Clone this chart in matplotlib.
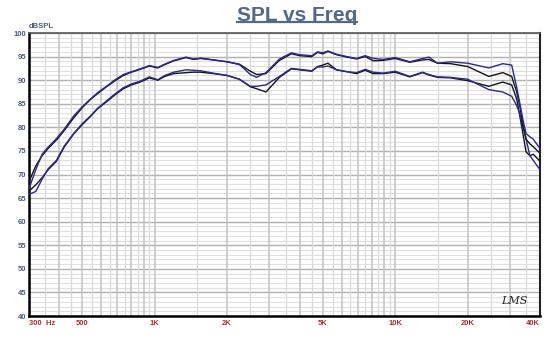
import numpy as np
import matplotlib
matplotlib.use("Agg")
import matplotlib.pyplot as plt
from matplotlib.lines import Line2D
from matplotlib.ticker import FixedLocator, NullFormatter

# frequency points (Hz) shared by the four traces
freq = [300, 320, 340, 360, 390, 420, 460, 500, 540, 580,
        630, 680, 740, 800, 870, 950, 1030, 1100, 1200, 1350,
        1450, 1550, 1750, 2000, 2250, 2500, 2650, 2900, 3300, 3700,
        4000, 4500, 4750, 5000, 5250, 5700, 6300, 6900, 7500, 8100,
        8900, 10000, 11500, 13000, 13800, 15000, 17000, 20000, 24500, 28000,
        30500, 32000, 33000, 34000, 35000, 36300, 37500, 40000]

upper_black = [68.5, 71.8, 74.0, 75.5, 77.3, 79.3, 82.0, 84.2, 85.9, 87.2,
               88.6, 89.8, 91.0, 91.7, 92.3, 93.0, 92.6, 93.3, 94.1, 94.8,
               94.4, 94.6, 94.3, 93.9, 93.4, 91.9, 91.2, 91.4, 94.2, 95.6,
               95.2, 95.0, 95.9, 95.6, 96.1, 95.4, 94.9, 94.5, 95.0, 94.1,
               94.2, 94.6, 93.8, 94.3, 94.4, 93.6, 93.5, 92.9, 90.8, 91.6,
               90.8, 87.5, 84.4, 80.5, 77.5, 76.5, 75.9, 74.5]

upper_blue = [67.0, 71.0, 74.3, 75.8, 77.6, 79.6, 82.4, 84.4, 86.0, 87.4,
              88.7, 90.0, 91.2, 91.8, 92.4, 93.1, 92.7, 93.4, 94.2, 94.9,
              94.5, 94.7, 94.3, 93.9, 93.3, 91.2, 90.6, 91.6, 94.5, 95.8,
              95.4, 95.2, 96.0, 95.8, 96.2, 95.5, 95.0, 94.6, 95.2, 94.6,
              94.4, 94.8, 93.9, 94.6, 94.9, 93.6, 93.9, 93.6, 92.6, 93.5,
              93.2, 88.5, 85.0, 81.5, 78.7, 78.0, 77.5, 75.5]

lower_black = [66.5, 67.8, 69.3, 71.0, 72.8, 75.8, 78.6, 80.6, 82.3, 84.0,
               85.4, 86.8, 88.2, 89.0, 89.6, 90.5, 90.0, 90.8, 91.4, 91.6,
               91.7, 91.7, 91.4, 91.0, 90.2, 88.6, 88.2, 87.5, 90.6, 92.4,
               92.2, 91.9, 92.9, 93.2, 93.6, 92.2, 91.8, 91.4, 92.1, 91.4,
               91.4, 91.7, 90.7, 91.6, 91.1, 90.6, 90.5, 89.9, 88.7, 89.6,
               89.0, 86.0, 82.3, 78.5, 74.8, 74.0, 74.3, 72.8]

lower_blue = [65.8, 66.4, 69.0, 71.2, 73.0, 76.0, 78.7, 80.8, 82.4, 84.1,
              85.6, 87.0, 88.4, 89.2, 89.8, 90.7, 90.1, 91.0, 91.7, 92.2,
              92.1, 92.0, 91.5, 91.0, 90.2, 88.7, 88.7, 89.0, 90.8, 92.5,
              92.3, 92.0, 92.8, 92.8, 93.0, 92.2, 91.8, 91.6, 92.3, 91.7,
              91.5, 91.9, 90.8, 91.7, 91.2, 90.7, 90.6, 90.2, 88.0, 87.5,
              86.6, 84.6, 82.8, 80.1, 77.5, 74.0, 73.0, 71.0]

xtick_vals = [300, 500, 1000, 2000, 5000, 10000, 20000, 40000]
xtick_text = ['300  Hz', '500', '1K', '2K', '5K', '10K', '20K', '40K']
ytick_vals = list(range(40, 101, 5))

plt.rcParams['font.family'] = ['Liberation Sans', 'DejaVu Sans']

fig = plt.figure(figsize=(5.6, 3.37), dpi=100)
ax = fig.add_axes([0.0518, 0.0623, 0.9125, 0.8397])
ax.set_xscale('log')
ax.set_xlim(300, 40000)
ax.set_ylim(40, 100)

# grid: 1 dB light, 5 dB darker
for v in range(41, 100):
    if v % 5:
        ax.axhline(v, color='#e0e0e0', lw=0.8, zorder=0)
for v in ytick_vals:
    ax.axhline(v, color='#b0b0b0', lw=1.0, zorder=0)

# vertical grid: half steps light, whole steps darker
for dec in [100, 1000, 10000]:
    for m in np.arange(1, 10, 0.5):
        f = m * dec
        if f < 300 or f > 40000:
            continue
        if dec == 10000 and m not in (1, 1.5, 2, 2.5, 3, 3.5, 4):
            continue
        if m == int(m):
            ax.axvline(f, color='#c2c2c2', lw=1.1, zorder=0)
        else:
            ax.axvline(f, color='#dadada', lw=0.9, zorder=0)

navy = '#2a2a92'
ax.plot(freq, lower_black, color='#151515', lw=1.0, zorder=3)
ax.plot(freq, lower_blue, color=navy, lw=1.0, zorder=3)
ax.plot(freq, upper_black, color='#151515', lw=1.0, zorder=3)
ax.plot(freq, upper_blue, color=navy, lw=1.0, zorder=3)

ax.xaxis.set_major_locator(FixedLocator(xtick_vals))
ax.xaxis.set_minor_formatter(NullFormatter())
ax.xaxis.set_minor_locator(FixedLocator([]))
ax.set_xticklabels(xtick_text)
ax.set_yticks(ytick_vals)
ax.tick_params(axis='x', length=0, pad=3, labelsize=5.5, labelcolor='#a83232')
ax.tick_params(axis='y', length=0, pad=2, labelsize=5.5, labelcolor='#4a5f80')
for lab in ax.get_xticklabels() + ax.get_yticklabels():
    lab.set_fontweight('bold')
xl = ax.get_xticklabels()
xl[0].set_ha('left')
xl[-1].set_ha('right')

for s in ['left', 'bottom']:
    ax.spines[s].set_color('black')
    ax.spines[s].set_linewidth(1.8)
ax.spines['right'].set_color('#222222')
ax.spines['right'].set_linewidth(1.5)
ax.spines['top'].set_color('#555555')
ax.spines['top'].set_linewidth(1.2)

ax.text(0.0, 1.012, 'dBSPL', transform=ax.transAxes, fontsize=5.5,
        fontweight='bold', color='#4a5f80', ha='left', va='bottom')
ax.text(0.975, 0.035, 'LMS', transform=ax.transAxes, fontsize=8,
        style='italic', color='#222222', ha='right', va='bottom',
        family=['DejaVu Serif'])

title = fig.text(0.53, 0.955, 'SPL vs Freq', fontsize=15, fontweight='bold',
                 color='#52698a', ha='center', va='center')

# underline the title
fig.canvas.draw()
bb = title.get_window_extent().transformed(fig.transFigure.inverted())
fig.add_artist(Line2D([bb.x0, bb.x1], [bb.y0 + 0.008, bb.y0 + 0.008],
                      transform=fig.transFigure, color='#52698a', lw=1.6))

fig.savefig('out.png', dpi=100)
